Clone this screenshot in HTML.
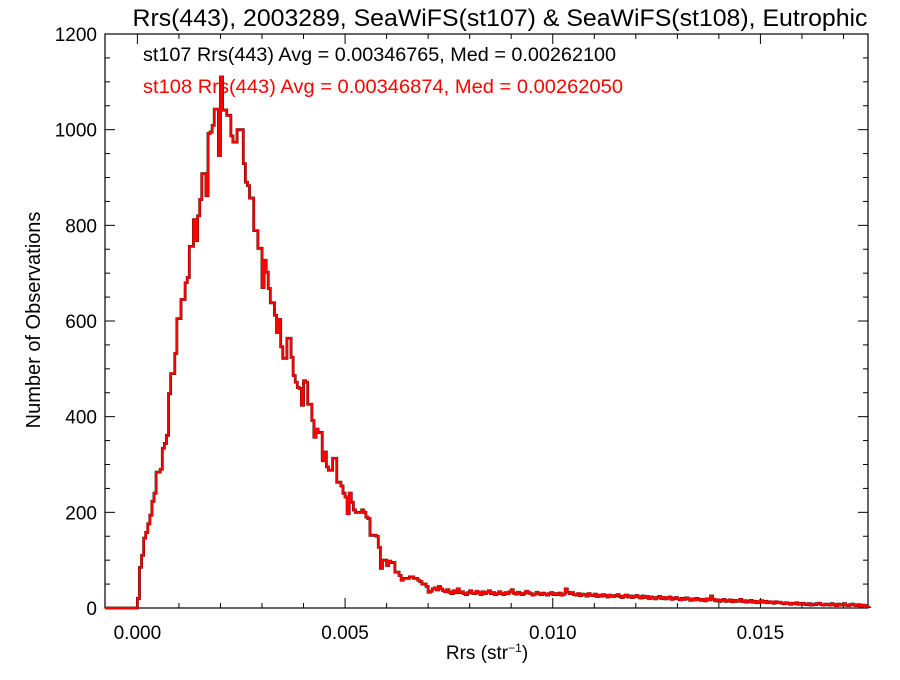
<!DOCTYPE html>
<html><head><meta charset="utf-8"><style>
body{margin:0;background:#fff}
svg text{font-family:"Liberation Sans",Arial,sans-serif}
</style></head><body>
<svg id="chart" width="900" height="675" viewBox="0 0 900 675" xmlns="http://www.w3.org/2000/svg">
<rect width="900" height="675" fill="#fff"/>
<text x="500" y="26" font-size="24.5" text-anchor="middle" textLength="735" lengthAdjust="spacingAndGlyphs">Rrs(443), 2003289, SeaWiFS(st107) &amp; SeaWiFS(st108), Eutrophic</text>
<text x="143" y="61" font-size="19.5" textLength="473" lengthAdjust="spacingAndGlyphs">st107 Rrs(443) Avg = 0.00346765, Med = 0.00262100</text>
<text x="143" y="93" font-size="19.5" fill="#ff0000" textLength="480" lengthAdjust="spacingAndGlyphs">st108 Rrs(443) Avg = 0.00346874, Med = 0.00262050</text>
<text transform="translate(40,320) rotate(-90)" font-size="20" text-anchor="middle">Number of Observations</text>
<text x="487" y="659" font-size="19" text-anchor="middle">Rrs (str<tspan dy="-7" font-size="12">−1</tspan><tspan dy="7">)</tspan></text>
<g id="axes"></g>
<g id="series"></g>
</svg>
<script>
const binStart = 0.0;
const binWidth = 0.00005;
const yTicks = [0, 200, 400, 600, 800, 1000, 1200];
const xTicks = [0.000, 0.005, 0.010, 0.015];
const xTickLabels = ["0.000", "0.005", "0.010", "0.015"];
const st108Counts = [
20,85,110,146,158,176,194,223,240,284,284,290,334,344,361,448,490,490,532,605,
605,645,645,680,691,756,756,812,768,820,854,908,908,862,992,995,1009,1043,1043,946,
1110,1041,1041,1030,1030,987,974,974,1000,1000,1000,929,890,883,857,857,789,789,752,752,
670,727,702,668,638,638,612,576,603,546,522,522,564,564,524,486,472,461,459,424,
475,472,426,426,392,357,374,367,367,308,326,295,288,288,313,313,263,263,255,240,
232,197,240,221,205,200,200,200,205,200,190,187,152,152,152,150,127,83,100,100,
89,98,95,95,75,75,68,58,62,62,62,
65,65,62,62,58,55,50,50,45,33,
35,40,42,38,45,40,36,34,38,33,
30,36,32,40,32,34,30,28,32,36,
31,30,35,32,28,34,30,33,36,30,
32,28,30,34,30,28,32,30,34,38,
31,29,33,30,28,31,35,32,30,27,
29,33,30,28,31,29,27,30,32,28,
30,28,31,27,29,40,33,30,32,28,
27,30,26,29,28,25,30,27,26,29,
24,27,25,28,26,23,27,25,24,26,
28,24,22,25,27,23,25,22,24,26,
23,21,25,22,24,20,23,21,19,22,
24,20,22,19,21,23,18,20,22,19,
17,20,18,21,19,16,19,17,20,18,
16,18,15,19,17,25,18,15,17,14,
16,18,14,15,17,13,16,14,15,18,
13,15,12,14,16,12,14,11,13,15,
12,14,11,13,12,10,13,11,12,10,
9,11,10,8,10,9,11,8,9,10,
8,7,9,6,8,7,9,10,7,6,
8,7,6,9,7,5,8,6,7,9,
6,5,7,8,6,5,7,4,6,5,4,3
];
const st107Counts = st108Counts.slice();

const L=105, R=868, T=34, B=608;
const xMin=-0.00078, xMax=0.01759, yMin=0, yMax=1200;
function xs(v){return L+(v-xMin)/(xMax-xMin)*(R-L);}
function ys(v){return B-(v-yMin)/(yMax-yMin)*(B-T);}
const NS="http://www.w3.org/2000/svg";
const axes=document.getElementById('axes');
const series=document.getElementById('series');
function mk(tag,attrs,parent){const e=document.createElementNS(NS,tag);for(const k in attrs)e.setAttribute(k,attrs[k]);parent.appendChild(e);return e;}

const frame=mk('rect',{x:L,y:T,width:R-L,height:B-T,fill:'none',stroke:'#000','stroke-width':1.2},axes);



for(let v=0; v<=1200; v+=50){
  const major = (v%200===0);
  const len = major?10:5;
  const y=ys(v);
  const t1=mk('line',{x1:L,x2:L+len,y1:y,y2:y,stroke:'#000','stroke-width':1},axes);
  
  
  const t2=mk('line',{x1:R,x2:R-len,y1:y,y2:y,stroke:'#000','stroke-width':1},axes);
  
  
}
yTicks.forEach(v=>{
  const t=mk('text',{x:L-8,y:ys(v)+7,'font-size':19,'text-anchor':'end'},axes);
  t.textContent=String(v);
  
  
});
for(let i=0;i<=17;i++){
  const v=i*0.001;
  const major=(i%5===0);
  const len=major?10:5;
  const x=xs(v);
  const t1=mk('line',{x1:x,x2:x,y1:B,y2:B-len,stroke:'#000','stroke-width':1},axes);
  
  
  const t2=mk('line',{x1:x,x2:x,y1:T,y2:T+len,stroke:'#000','stroke-width':1},axes);
  
  
}
xTicks.forEach((v,i)=>{
  const t=mk('text',{x:xs(v),y:639,'font-size':19,'text-anchor':'middle'},axes);
  t.textContent=xTickLabels[i];
  
  
});

function stepPath(counts){
  let d='M'+L+' '+ys(0)+' L'+xs(binStart)+' '+ys(0);
  counts.forEach((c,i)=>{
    const x0=xs(binStart+i*binWidth), x1=xs(binStart+(i+1)*binWidth);
    d+=' L'+x0.toFixed(2)+' '+ys(c).toFixed(2)+' L'+Math.min(x1,R).toFixed(2)+' '+ys(c).toFixed(2);
  });
  return d;
}
const p107=mk('path',{d:stepPath(st107Counts),fill:'none',stroke:'#000','stroke-width':2.8},series);


const p108=mk('path',{d:stepPath(st108Counts),fill:'none',stroke:'#ff0000','stroke-width':2.2},series);


</script>
</body></html>
